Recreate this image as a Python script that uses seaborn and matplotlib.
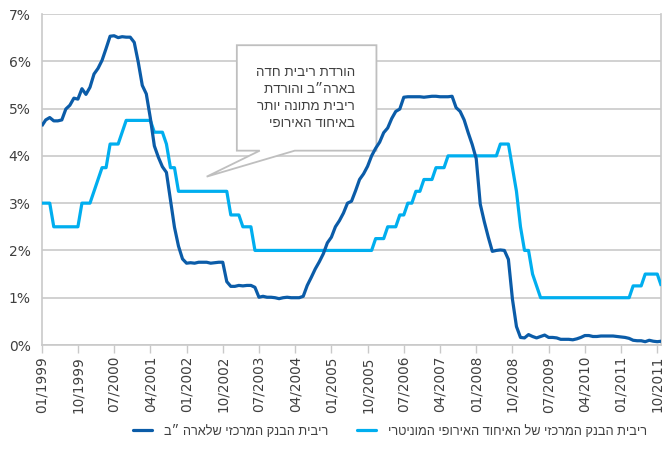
import numpy as np
import pandas as pd
import matplotlib
matplotlib.use("Agg")
import matplotlib.pyplot as plt
from matplotlib.patches import Polygon
from matplotlib.lines import Line2D
import seaborn as sns

# Monthly observations, 01/1999 .. 11/2011
tick_labels = ["01/1999", "10/1999", "07/2000", "04/2001", "01/2002", "10/2002",
               "07/2003", "04/2004", "01/2005", "10/2005", "07/2006", "04/2007",
               "01/2008", "10/2008", "07/2009", "04/2010", "01/2011", "10/2011"]

us_rate = [
    4.63, 4.76, 4.81, 4.74, 4.74, 4.76, 4.99, 5.07, 5.22, 5.20, 5.42, 5.30,
    5.45, 5.73, 5.85, 6.02, 6.27, 6.53, 6.54, 6.50, 6.52, 6.51, 6.51, 6.40,
    5.98, 5.49, 5.31, 4.80, 4.21, 3.97, 3.77, 3.65, 3.07, 2.49, 2.09, 1.82,
    1.73, 1.74, 1.73, 1.75, 1.75, 1.75, 1.73, 1.74, 1.75, 1.75, 1.34, 1.24,
    1.24, 1.26, 1.25, 1.26, 1.26, 1.22, 1.01, 1.03, 1.01, 1.01, 1.00, 0.98,
    1.00, 1.01, 1.00, 1.00, 1.00, 1.03, 1.26, 1.43, 1.61, 1.76, 1.93, 2.16,
    2.28, 2.50, 2.63, 2.79, 3.00, 3.04, 3.26, 3.50, 3.62, 3.78, 4.00, 4.16,
    4.29, 4.49, 4.59, 4.79, 4.94, 4.99, 5.24, 5.25, 5.25, 5.25, 5.25, 5.24,
    5.25, 5.26, 5.26, 5.25, 5.25, 5.25, 5.26, 5.02, 4.94, 4.76, 4.49, 4.24,
    3.94, 2.98, 2.61, 2.28, 1.98, 2.00, 2.01, 2.00, 1.81, 0.97, 0.39, 0.16,
    0.15, 0.22, 0.18, 0.15, 0.18, 0.21, 0.16, 0.16, 0.15, 0.12, 0.12, 0.12,
    0.11, 0.13, 0.16, 0.20, 0.20, 0.18, 0.18, 0.19, 0.19, 0.19, 0.19, 0.18,
    0.17, 0.16, 0.14, 0.10, 0.09, 0.09, 0.07, 0.10, 0.08, 0.07, 0.08,
]

eu_rate = [
    3.00, 3.00, 3.00, 2.50, 2.50, 2.50, 2.50, 2.50, 2.50, 2.50, 3.00, 3.00,
    3.00, 3.25, 3.50, 3.75, 3.75, 4.25, 4.25, 4.25, 4.50, 4.75, 4.75, 4.75,
    4.75, 4.75, 4.75, 4.75, 4.50, 4.50, 4.50, 4.25, 3.75, 3.75, 3.25, 3.25,
    3.25, 3.25, 3.25, 3.25, 3.25, 3.25, 3.25, 3.25, 3.25, 3.25, 3.25, 2.75,
    2.75, 2.75, 2.50, 2.50, 2.50, 2.00, 2.00, 2.00, 2.00, 2.00, 2.00, 2.00,
    2.00, 2.00, 2.00, 2.00, 2.00, 2.00, 2.00, 2.00, 2.00, 2.00, 2.00, 2.00,
    2.00, 2.00, 2.00, 2.00, 2.00, 2.00, 2.00, 2.00, 2.00, 2.00, 2.00, 2.25,
    2.25, 2.25, 2.50, 2.50, 2.50, 2.75, 2.75, 3.00, 3.00, 3.25, 3.25, 3.50,
    3.50, 3.50, 3.75, 3.75, 3.75, 4.00, 4.00, 4.00, 4.00, 4.00, 4.00, 4.00,
    4.00, 4.00, 4.00, 4.00, 4.00, 4.00, 4.25, 4.25, 4.25, 3.75, 3.25, 2.50,
    2.00, 2.00, 1.50, 1.25, 1.00, 1.00, 1.00, 1.00, 1.00, 1.00, 1.00, 1.00,
    1.00, 1.00, 1.00, 1.00, 1.00, 1.00, 1.00, 1.00, 1.00, 1.00, 1.00, 1.00,
    1.00, 1.00, 1.00, 1.25, 1.25, 1.25, 1.50, 1.50, 1.50, 1.50, 1.25,
]

us_label = "ריבית הבנק המרכזי שלארה ״ב"
eu_label = "ריבית הבנק המרכזי של האיחוד האירופי המוניטרי"
note_lines = ["הורדת ריבית חדה", "בארה״ב והורדת", "ריבית מתונה יותר", "באיחוד האירופי"]

US_COLOR = "#0B5CA8"
EU_COLOR = "#00AEEF"
GRID = "#C9C9C9"
TEXT = "#3F3F3F"


def rtl(s):
    # matplotlib lays glyphs out left-to-right; reverse Hebrew for display
    return s[::-1]


sns.set_theme(style="white")
plt.rcParams["font.family"] = ["DejaVu Sans"]
HEB = ["Liberation Sans", "DejaVu Sans"]

months = np.arange(len(us_rate))
df = pd.DataFrame({
    "month": np.concatenate([months, months]),
    "rate": us_rate + eu_rate,
    "series": ["us"] * len(us_rate) + ["eu"] * len(eu_rate),
})

W, H = 662, 461
fig = plt.figure(figsize=(W / 100, H / 100), dpi=100)
x0, x1, y0, y1 = 41.7, 661.3, 14, 345
ax = fig.add_axes([x0 / W, 1 - y1 / H, (x1 - x0) / W, (y1 - y0) / H])

sns.lineplot(data=df, x="month", y="rate", hue="series",
             palette={"us": US_COLOR, "eu": EU_COLOR},
             hue_order=["eu", "us"], linewidth=2.3, legend=False,
             ax=ax, zorder=5)
for ln in ax.lines:
    ln.set_solid_joinstyle("round")
    ln.set_solid_capstyle("butt")

ax.set_xlim(0, len(us_rate) - 1)
ax.set_ylim(0, 7)
ax.set_xlabel("")
ax.set_ylabel("")

ax.set_yticks(range(0, 8))
ax.set_yticklabels([f"{v}%" for v in range(0, 8)])
ax.yaxis.grid(True, color=GRID, linewidth=1.2)
ax.xaxis.grid(False)
ax.set_axisbelow(True)

tick_pos = months[::9][:len(tick_labels)]
ax.set_xticks(tick_pos)
ax.set_xticklabels(tick_labels, rotation=90, va="top", ha="center")

ax.tick_params(axis="y", length=0, pad=8, labelsize=10, labelcolor=TEXT)
ax.tick_params(axis="x", length=6, width=1, color=GRID, pad=2,
               labelsize=9.8, labelcolor=TEXT, direction="out", bottom=True)

for side in ["left", "bottom", "right"]:
    ax.spines[side].set_visible(True)
    ax.spines[side].set_color(GRID)
    ax.spines[side].set_linewidth(1.2)
ax.spines["top"].set_visible(False)

# Callout box with pointer
bx0, bx1, by0, by1 = 48.5, 83.2, 4.11, 6.34
callout = Polygon(
    [(bx0, by1), (bx1, by1), (bx1, by0), (62.9, by0), (41.0, 3.56),
     (54.2, by0), (bx0, by0)],
    closed=True, facecolor="white", edgecolor="#BFBFBF", linewidth=1.3,
    zorder=3, joinstyle="miter")
ax.add_patch(callout)
ax.text(77.9, 5.21, "\n".join(rtl(s) for s in note_lines), ha="right",
        va="center", multialignment="right", fontsize=9.6, color=TEXT,
        family=HEB, linespacing=1.55, zorder=4)

handles = [Line2D([], [], color=US_COLOR, linewidth=2.3),
           Line2D([], [], color=EU_COLOR, linewidth=2.3)]
fig.legend(handles, [rtl(us_label), rtl(eu_label)], loc="center",
           bbox_to_anchor=(390 / W, 1 - 431 / H), ncol=2, frameon=False,
           prop={"family": HEB, "size": 9.2}, labelcolor=TEXT,
           handlelength=1.5, handletextpad=0.9, columnspacing=2.3)

fig.savefig("out.png", dpi=100, facecolor="white")
